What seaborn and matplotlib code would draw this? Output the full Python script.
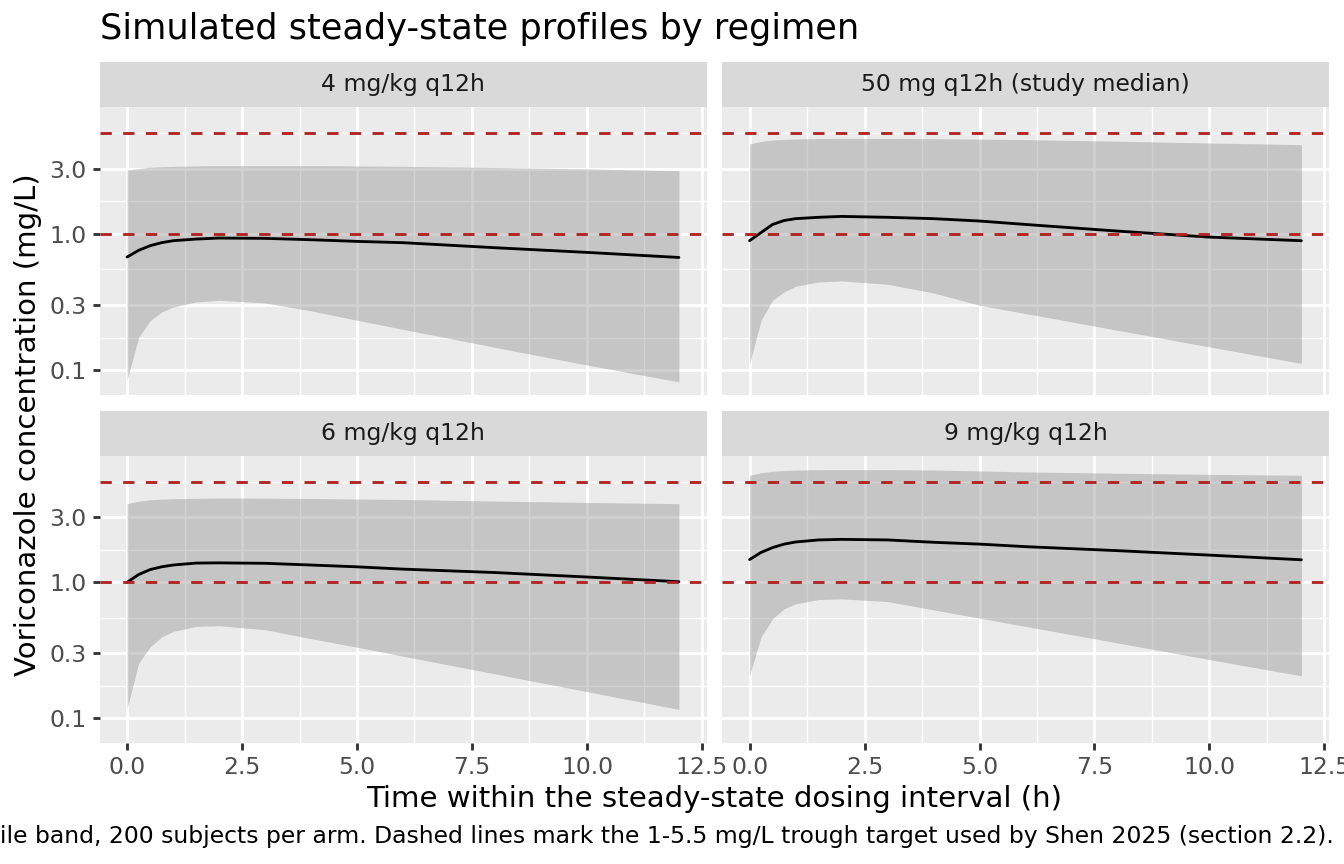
import matplotlib
matplotlib.use("Agg")
import matplotlib.pyplot as plt
from matplotlib.ticker import FixedLocator, NullFormatter, FixedFormatter
import numpy as np
import pandas as pd
import seaborn as sns

# time grid within the dosing interval (h)
time_h = [0, 0.25, 0.5, 0.75, 1, 1.5, 2, 3, 4, 5, 6, 8, 10, 12]

regimens = ["4 mg/kg q12h", "50 mg q12h (study median)", "6 mg/kg q12h", "9 mg/kg q12h"]

# median and 5th / 95th percentile (mg/L)
med_4 = [0.675, 0.755, 0.817, 0.86, 0.889, 0.914, 0.93, 0.925, 0.904, 0.879, 0.86, 0.79, 0.73, 0.67]
lo_4 = [0.0845, 0.173, 0.23, 0.267, 0.29, 0.316, 0.325, 0.311, 0.272, 0.232, 0.199, 0.147, 0.109, 0.082]
hi_4 = [2.94, 3.0, 3.07, 3.1, 3.12, 3.14, 3.16, 3.16, 3.16, 3.14, 3.12, 3.06, 2.99, 2.9]

med_50 = [0.89, 1.02, 1.17, 1.25, 1.29, 1.32, 1.34, 1.32, 1.29, 1.24, 1.17, 1.046, 0.945, 0.889]
lo_50 = [0.112, 0.232, 0.325, 0.374, 0.412, 0.443, 0.451, 0.426, 0.368, 0.299, 0.26, 0.196, 0.148, 0.112]
hi_50 = [4.56, 4.75, 4.87, 4.92, 4.95, 4.99, 5.01, 5.0, 4.98, 4.94, 4.9, 4.77, 4.63, 4.5]

med_6 = [1.0, 1.14, 1.24, 1.30, 1.34, 1.385, 1.39, 1.38, 1.34, 1.30, 1.25, 1.18, 1.094, 1.01]
lo_6 = [0.118, 0.253, 0.335, 0.396, 0.435, 0.474, 0.479, 0.448, 0.385, 0.333, 0.286, 0.212, 0.157, 0.116]
hi_6 = [3.79, 3.95, 4.05, 4.09, 4.12, 4.15, 4.17, 4.16, 4.14, 4.1, 4.07, 3.96, 3.87, 3.79]

med_9 = [1.47, 1.66, 1.80, 1.91, 1.98, 2.05, 2.07, 2.05, 1.97, 1.91, 1.83, 1.71, 1.585, 1.465]
lo_9 = [0.207, 0.396, 0.539, 0.638, 0.694, 0.747, 0.755, 0.722, 0.627, 0.545, 0.474, 0.358, 0.27, 0.205]
hi_9 = [6.13, 6.4, 6.56, 6.65, 6.7, 6.73, 6.75, 6.74, 6.7, 6.6, 6.49, 6.35, 6.23, 6.13]

target_lines = [1.0, 5.5]
y_breaks = [0.1, 0.3, 1.0, 3.0]
y_labels = ["0.1", "0.3", "1.0", "3.0"]
x_breaks = [0, 2.5, 5, 7.5, 10, 12.5]
x_labels = ["0.0", "2.5", "5.0", "7.5", "10.0", "12.5"]

title = "Simulated steady-state profiles by regimen"
xlab = "Time within the steady-state dosing interval (h)"
ylab = "Voriconazole concentration (mg/L)"
caption = ("Black line: median; shaded area: 5th-95th percentile band, 200 subjects per arm. "
           "Dashed lines mark the 1-5.5 mg/L trough target used by Shen 2025 (section 2.2).")

frames = []
for reg, md, lo, hi in zip(regimens, [med_4, med_50, med_6, med_9],
                           [lo_4, lo_50, lo_6, lo_9], [hi_4, hi_50, hi_6, hi_9]):
    frames.append(pd.DataFrame({"regimen": reg, "time": time_h, "median": md, "lo": lo, "hi": hi}))
df = pd.concat(frames, ignore_index=True)

sns.set_theme(style="darkgrid", rc={"axes.facecolor": "#EBEBEB", "figure.facecolor": "white"})
plt.rcParams["font.family"] = ["DejaVu Sans"]

LW = 2.04      # ggplot 0.5 mm line at this resolution
TXT = 16.9     # rel(0.8) text
AXT = 21.1     # axis titles


def band(data, **kws):
    ax = plt.gca()
    ax.fill_between(data["time"], data["lo"], data["hi"], color="#8C8C8C", alpha=0.4,
                    linewidth=0, zorder=2)


g = sns.FacetGrid(df, col="regimen", col_wrap=2, col_order=regimens, sharex=True, sharey=True)
g.map_dataframe(band)
g.map_dataframe(sns.lineplot, x="time", y="median", color="black", linewidth=LW, zorder=3)

fig = g.figure
fig.set_size_inches(13.44, 8.64)

W, H = 1344.0, 864.0
col_x = [99.5, 722.0]
pw = 607.0
row_y = [(107.0, 395.0), (456.0, 743.0)]
strip_h = 45.0

for i, ax in enumerate(g.axes.flat):
    r, c = divmod(i, 2)
    top, bot = row_y[r]
    ax.set_position([col_x[c] / W, 1 - bot / H, pw / W, (bot - top) / H])
    ax.set_yscale("log")
    ax.set_ylim(0.0657, 8.5)
    ax.set_xlim(-0.6, 12.6)
    ax.yaxis.set_major_locator(FixedLocator(y_breaks))
    ax.yaxis.set_major_formatter(FixedFormatter(y_labels))
    ax.yaxis.set_minor_locator(FixedLocator([0.0548, 0.1732, 0.5477, 1.732, 5.477]))
    ax.yaxis.set_minor_formatter(NullFormatter())
    ax.xaxis.set_major_locator(FixedLocator(x_breaks))
    ax.xaxis.set_major_formatter(FixedFormatter(x_labels))
    ax.xaxis.set_minor_locator(FixedLocator([1.25, 3.75, 6.25, 8.75, 11.25]))
    ax.grid(which="major", color="white", linewidth=LW)
    ax.grid(which="minor", color="white", linewidth=LW / 2)
    ax.set_axisbelow(True)
    for s in ax.spines.values():
        s.set_visible(False)
    for yv in target_lines:
        ax.axhline(yv, color="#B22222", linewidth=LW, linestyle=(0, (4, 4)), zorder=4)
    ax.set_title("")
    ax.set_xlabel("")
    ax.set_ylabel("")
    ax.tick_params(which="major", length=5.3, width=LW, color="#333333", labelcolor="#4D4D4D",
                   labelsize=TXT, pad=4.2, direction="out")
    ax.tick_params(which="minor", length=0)
    ax.tick_params(axis="x", bottom=(r == 1), labelbottom=(r == 1))
    ax.tick_params(axis="y", left=(c == 0), labelleft=(c == 0))

    sax = fig.add_axes([col_x[c] / W, 1 - top / H, pw / W, strip_h / H])
    sax.set_facecolor("#D9D9D9")
    sax.set_xticks([])
    sax.set_yticks([])
    sax.grid(False)
    for s in sax.spines.values():
        s.set_visible(False)
    sax.text(0.5, 0.5, regimens[i], ha="center", va="center", fontsize=TXT, color="#1A1A1A",
             transform=sax.transAxes)

fig.text(100 / W, 1 - 39.5 / H, title, ha="left", va="baseline", fontsize=25.3, color="black")
fig.text(714.5 / W, 1 - 807.3 / H, xlab, ha="center", va="baseline", fontsize=AXT, color="black")
fig.text(28 / W, 1 - 425 / H, ylab, ha="center", va="center", rotation=90, fontsize=AXT,
         color="black")
fig.text(1334 / W, 1 - 843.3 / H, caption, ha="right", va="baseline", fontsize=TXT, color="black")

fig.savefig("out.png", dpi=100)
